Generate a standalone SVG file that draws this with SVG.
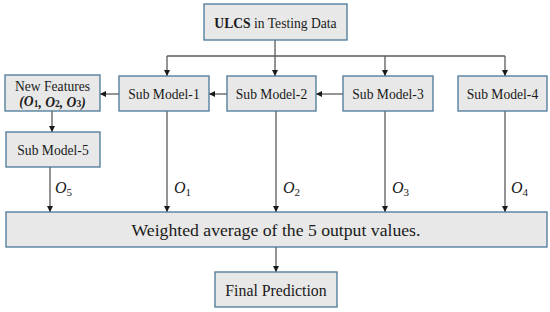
<svg xmlns="http://www.w3.org/2000/svg" width="550" height="312" viewBox="0 0 550 312">
<style>
.box{fill:#e8e8e8;stroke:#4a7897;stroke-width:1.3}
.t{font-family:'Liberation Serif','Times New Roman',Tinos,'DejaVu Serif',serif;font-size:13.6px;fill:#1a1a1a;text-anchor:middle;dominant-baseline:central}
.m{font-family:'Liberation Serif','Times New Roman',Tinos,'DejaVu Serif',serif;font-style:italic;font-size:16px;fill:#1a1a1a}
.sub{font-size:11px;font-style:normal}
.c{stroke:#5a5a5a;stroke-width:1.3;fill:none;marker-end:url(#ah)}
.cn{stroke:#5a5a5a;stroke-width:1.3;fill:none}
</style>
<defs>
<marker id="ah" markerUnits="userSpaceOnUse" markerWidth="7" markerHeight="7" refX="6" refY="3.5" orient="auto">
<path d="M0,0.5 L6,3.5 L0,6.5 Z" fill="#1a1a1a"/>
</marker>
</defs>
<rect width="550" height="312" fill="#ffffff"/>
<g id="connectors">
<line class="c" x1="275" y1="40" x2="275" y2="76"/>
<line class="cn" x1="167" y1="56" x2="505" y2="56"/>
<line class="c" x1="167" y1="56" x2="167" y2="76"/>
<line class="c" x1="385" y1="56" x2="385" y2="76"/>
<line class="c" x1="505" y1="56" x2="505" y2="76"/>
<line class="c" x1="119" y1="94" x2="100" y2="94"/>
<line class="c" x1="227" y1="94" x2="209" y2="94"/>
<line class="c" x1="343" y1="94" x2="316" y2="94"/>
<line class="c" x1="52" y1="111" x2="52" y2="132"/>
<line class="c" x1="50" y1="167" x2="50" y2="212"/>
<line class="c" x1="167" y1="111" x2="167" y2="212"/>
<line class="c" x1="276" y1="111" x2="276" y2="212"/>
<line class="c" x1="385" y1="111" x2="385" y2="212"/>
<line class="c" x1="505" y1="111" x2="505" y2="212"/>
<line class="c" x1="276" y1="247" x2="276" y2="272"/>
<text class="m" x="55" y="193">O<tspan class="sub" dy="3">5</tspan></text>
<text class="m" x="174" y="193">O<tspan class="sub" dy="3">1</tspan></text>
<text class="m" x="283" y="193">O<tspan class="sub" dy="3">2</tspan></text>
<text class="m" x="392" y="193">O<tspan class="sub" dy="3">3</tspan></text>
<text class="m" x="511" y="193">O<tspan class="sub" dy="3">4</tspan></text>
</g>
<g id="ulcs">
<rect class="box" x="204" y="4" width="143" height="36"/>
<text class="t" x="275.5" y="23"><tspan font-weight="bold">ULCS</tspan> in Testing Data</text>
</g>
<g id="newfeatures">
<rect class="box" x="5" y="75" width="95" height="36"/>
<text class="t" x="52.5" y="86.5">New Features</text>
<text class="t" x="52.5" y="101.5" font-weight="bold" font-style="italic">(O<tspan font-size="9.5px" font-style="normal" dy="2">1</tspan><tspan dy="-2">, O</tspan><tspan font-size="9.5px" font-style="normal" dy="2">2</tspan><tspan dy="-2">, O</tspan><tspan font-size="9.5px" font-style="normal" dy="2">3</tspan><tspan dy="-2">)</tspan></text>
</g>
<g id="sub1">
<rect class="box" x="119" y="76" width="90" height="35"/>
<text class="t" x="164" y="94">Sub Model-1</text>
</g>
<g id="sub2">
<rect class="box" x="227" y="76" width="89" height="35"/>
<text class="t" x="271.5" y="94">Sub Model-2</text>
</g>
<g id="sub3">
<rect class="box" x="343" y="76" width="90" height="35"/>
<text class="t" x="388" y="94">Sub Model-3</text>
</g>
<g id="sub4">
<rect class="box" x="458" y="76" width="89" height="35"/>
<text class="t" x="502.5" y="94">Sub Model-4</text>
</g>
<g id="sub5">
<rect class="box" x="6" y="132" width="94" height="35"/>
<text class="t" x="53" y="150.5">Sub Model-5</text>
</g>
<g id="weighted">
<rect class="box" x="6" y="212" width="541" height="35"/>
<text class="t" x="276" y="230" style="font-size:17.7px">Weighted average of the 5 output values.</text>
</g>
<g id="final">
<rect class="box" x="215" y="272" width="122" height="35"/>
<text class="t" x="276" y="290" style="font-size:15.8px">Final Prediction</text>
</g>
</svg>
